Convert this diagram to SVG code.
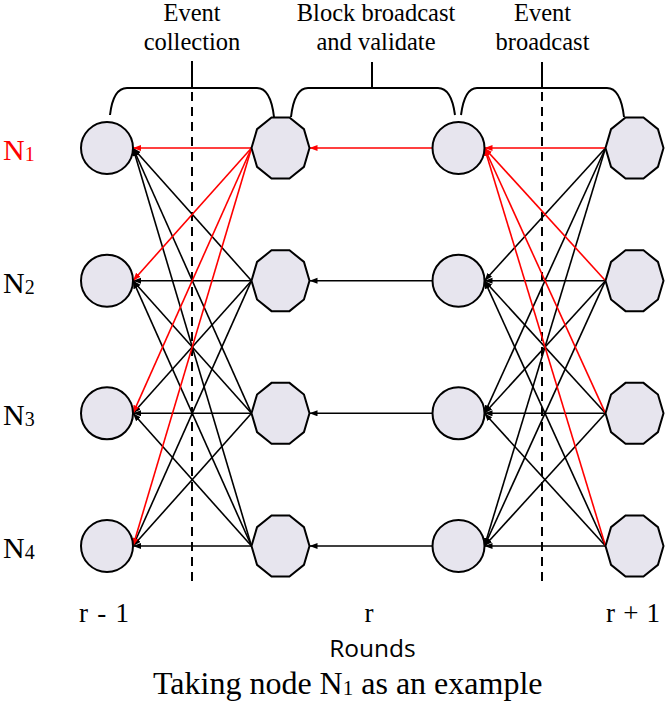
<svg xmlns="http://www.w3.org/2000/svg" xmlns:xlink="http://www.w3.org/1999/xlink" width="668" height="709" viewBox="0 0 668 709">
<style>
.node{fill:#e7e5ee;stroke:#000;stroke-width:2}
.k{stroke:#000;stroke-width:1.6;fill:none;marker-end:url(#ak)}
.r{stroke:#f00;stroke-width:1.6;fill:none;marker-end:url(#ar)}
.brace{fill:none;stroke:#000;stroke-width:2}
.dash{stroke:#000;stroke-width:2;stroke-dasharray:9,6}
.serif{font-family:"Liberation Serif","Times New Roman",serif;fill:#000}
.sans{font-family:"Open Sans","Liberation Sans",sans-serif;fill:#000}
</style>
<defs>
<marker id="ak" markerUnits="userSpaceOnUse" markerWidth="9" markerHeight="7" refX="8" refY="3" orient="auto"><path d="M0,0 L8,3 L0,6 z" fill="#000"/></marker>
<marker id="ar" markerUnits="userSpaceOnUse" markerWidth="9" markerHeight="7" refX="8" refY="3" orient="auto"><path d="M0,0 L8,3 L0,6 z" fill="#f00"/></marker>
<polygon id="deca" points="29,0 23.46,18.82 8.96,30.43 -8.96,30.43 -23.46,18.82 -29,0 -23.46,-18.82 -8.96,-30.43 8.96,-30.43 23.46,-18.82"/>
</defs>

<g id="labels-top">
<text class="serif" font-size="24.5" text-anchor="middle" x="192" y="21">Event</text>
<text class="serif" font-size="24.5" text-anchor="middle" x="192" y="50">collection</text>
<text class="serif" font-size="24.5" text-anchor="middle" x="376" y="21">Block broadcast</text>
<text class="serif" font-size="24.5" text-anchor="middle" x="376" y="50">and validate</text>
<text class="serif" font-size="24.5" text-anchor="middle" x="542.5" y="21">Event</text>
<text class="serif" font-size="24.5" text-anchor="middle" x="542.5" y="50">broadcast</text>
</g>

<g id="braces">
<path class="brace" d="M110,115 C112,98 117,88 127,88 L257,88 C267,88 272,100 274,117"/>
<path class="brace" d="M291,117 C293,100 298,88 308,88 L438,88 C448,88 453,100 455,115"/>
<path class="brace" d="M461,115 C463,100 467,88 477,88 L607,88 C617,88 622,100 624,117"/>
<line x1="192" y1="61" x2="192" y2="88" stroke="#000" stroke-width="2"/>
<line x1="372" y1="62" x2="372" y2="88" stroke="#000" stroke-width="2"/>
<line x1="542" y1="62" x2="542" y2="88" stroke="#000" stroke-width="2"/>
<line class="dash" x1="192" y1="92" x2="192" y2="586"/>
<line class="dash" x1="542" y1="92" x2="542" y2="586"/>
</g>

<g id="connectors">
<line class="k" x1="251.5" y1="280.7" x2="133" y2="148"/>
<line class="k" x1="251.5" y1="280.7" x2="133" y2="280.7"/>
<line class="k" x1="251.5" y1="280.7" x2="133" y2="413.3"/>
<line class="k" x1="251.5" y1="280.7" x2="133" y2="546"/>
<line class="k" x1="251.5" y1="413.3" x2="133" y2="148"/>
<line class="k" x1="251.5" y1="413.3" x2="133" y2="280.7"/>
<line class="k" x1="251.5" y1="413.3" x2="133" y2="413.3"/>
<line class="k" x1="251.5" y1="413.3" x2="133" y2="546"/>
<line class="k" x1="251.5" y1="546" x2="133" y2="148"/>
<line class="k" x1="251.5" y1="546" x2="133" y2="280.7"/>
<line class="k" x1="251.5" y1="546" x2="133" y2="413.3"/>
<line class="k" x1="251.5" y1="546" x2="133" y2="546"/>
<line class="k" x1="432.5" y1="280.7" x2="309.5" y2="280.7"/>
<line class="k" x1="432.5" y1="413.3" x2="309.5" y2="413.3"/>
<line class="k" x1="432.5" y1="546" x2="309.5" y2="546"/>
<line class="k" x1="605.5" y1="148" x2="484.5" y2="280.7"/>
<line class="k" x1="605.5" y1="148" x2="484.5" y2="413.3"/>
<line class="k" x1="605.5" y1="148" x2="484.5" y2="546"/>
<line class="k" x1="605.5" y1="280.7" x2="484.5" y2="280.7"/>
<line class="k" x1="605.5" y1="280.7" x2="484.5" y2="413.3"/>
<line class="k" x1="605.5" y1="280.7" x2="484.5" y2="546"/>
<line class="k" x1="605.5" y1="413.3" x2="484.5" y2="280.7"/>
<line class="k" x1="605.5" y1="413.3" x2="484.5" y2="413.3"/>
<line class="k" x1="605.5" y1="413.3" x2="484.5" y2="546"/>
<line class="k" x1="605.5" y1="546" x2="484.5" y2="280.7"/>
<line class="k" x1="605.5" y1="546" x2="484.5" y2="413.3"/>
<line class="k" x1="605.5" y1="546" x2="484.5" y2="546"/>
<line class="r" x1="251.5" y1="148" x2="133" y2="148"/>
<line class="r" x1="251.5" y1="148" x2="133" y2="280.7"/>
<line class="r" x1="251.5" y1="148" x2="133" y2="413.3"/>
<line class="r" x1="251.5" y1="148" x2="133" y2="546"/>
<line class="r" x1="432.5" y1="148" x2="309.5" y2="148"/>
<line class="r" x1="605.5" y1="148" x2="484.5" y2="148"/>
<line class="r" x1="605.5" y1="280.7" x2="484.5" y2="148"/>
<line class="r" x1="605.5" y1="413.3" x2="484.5" y2="148"/>
<line class="r" x1="605.5" y1="546" x2="484.5" y2="148"/>
</g>

<g id="c1-n1"><circle class="node" cx="107" cy="148" r="26"/></g>
<g id="c1-n2"><circle class="node" cx="107" cy="280.7" r="26"/></g>
<g id="c1-n3"><circle class="node" cx="107" cy="413.3" r="26"/></g>
<g id="c1-n4"><circle class="node" cx="107" cy="546" r="26"/></g>

<g id="c2-n1"><use xlink:href="#deca" class="node" x="280.5" y="148"/></g>
<g id="c2-n2"><use xlink:href="#deca" class="node" x="280.5" y="280.7"/></g>
<g id="c2-n3"><use xlink:href="#deca" class="node" x="280.5" y="413.3"/></g>
<g id="c2-n4"><use xlink:href="#deca" class="node" x="280.5" y="546"/></g>

<g id="c3-n1"><circle class="node" cx="458.5" cy="148" r="26"/></g>
<g id="c3-n2"><circle class="node" cx="458.5" cy="280.7" r="26"/></g>
<g id="c3-n3"><circle class="node" cx="458.5" cy="413.3" r="26"/></g>
<g id="c3-n4"><circle class="node" cx="458.5" cy="546" r="26"/></g>

<g id="c4-n1"><use xlink:href="#deca" class="node" x="634.5" y="148"/></g>
<g id="c4-n2"><use xlink:href="#deca" class="node" x="634.5" y="280.7"/></g>
<g id="c4-n3"><use xlink:href="#deca" class="node" x="634.5" y="413.3"/></g>
<g id="c4-n4"><use xlink:href="#deca" class="node" x="634.5" y="546"/></g>

<g id="labels-rows">
<text class="serif" font-size="30" x="3" y="160" style="fill:#f00">N<tspan font-size="20" dy="1">1</tspan></text>
<text class="serif" font-size="30" x="3" y="293">N<tspan font-size="20" dy="1">2</tspan></text>
<text class="serif" font-size="30" x="3" y="425">N<tspan font-size="20" dy="1">3</tspan></text>
<text class="serif" font-size="30" x="3" y="558">N<tspan font-size="20" dy="1">4</tspan></text>
</g>

<g id="labels-bottom">
<text class="serif" font-size="27" x="79" y="622" textLength="50" lengthAdjust="spacing">r - 1</text>
<text class="serif" font-size="27" x="369" y="622" text-anchor="middle">r</text>
<text class="serif" font-size="27" x="606" y="622" textLength="54" lengthAdjust="spacing">r + 1</text>
<text class="sans" font-size="24.5" x="372.5" y="657" text-anchor="middle">Rounds</text>
<text class="serif" font-size="32" x="153" y="694">Taking node N<tspan font-size="21" dy="1">1</tspan><tspan dy="-1"> as an example</tspan></text>
</g>
</svg>
